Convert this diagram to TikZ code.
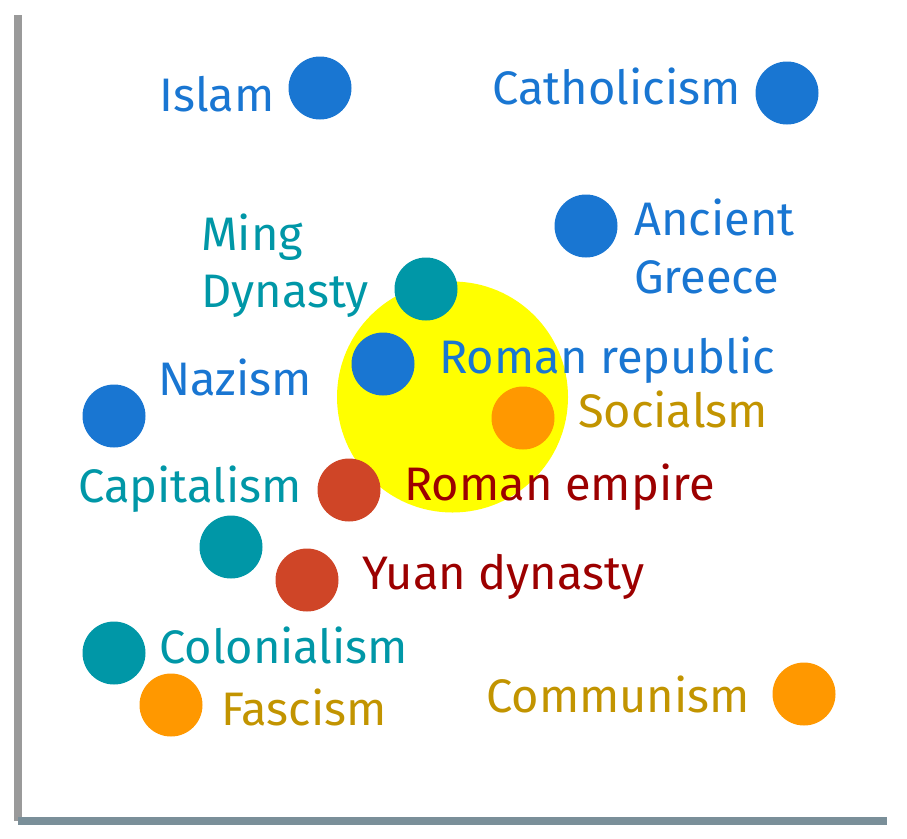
\documentclass[tikz,border=0pt]{standalone}
\usepackage{fontspec}
\setmainfont{Fira Sans}
\definecolor{cblue}{HTML}{1976D2}
\definecolor{cteal}{HTML}{0097A7}
\definecolor{corange}{HTML}{FF9800}
\definecolor{corangetxt}{HTML}{C29400}
\definecolor{cred}{HTML}{CF4527}
\definecolor{credtxt}{HTML}{9C0000}
\definecolor{cyellow}{RGB}{255,255,0}
\definecolor{axisv}{HTML}{9A9A9A}
\definecolor{axish}{HTML}{7A8F99}
\begin{document}
\begin{tikzpicture}[x=1pt,y=-1pt,
  dot/.style={circle,inner sep=0pt,minimum size=63pt},
  lbl/.style={anchor=base west,inner sep=0pt,font=\fontsize{47}{57}\selectfont,align=left}]
\useasboundingbox (0,0) rectangle (907,838);
\fill[axisv] (14,15) rectangle (22,821);
\fill[axish] (18,817) rectangle (887,825);
\node[circle,fill=cyellow,inner sep=0pt,minimum size=231pt] (focus) at (452.5,397) {};
% dots
\node[dot,fill=cblue] (islam) at (320,88) {};
\node[dot,fill=cblue] (cath) at (787,93) {};
\node[dot,fill=cblue] (greece) at (586,226) {};
\node[dot,fill=cteal] (ming) at (426,289) {};
\node[dot,fill=cblue] (repub) at (383,364) {};
\node[dot,fill=cblue] (nazi) at (114,416) {};
\node[dot,fill=corange] (social) at (523,418) {};
\node[dot,fill=cred] (empire) at (349,490) {};
\node[dot,fill=cteal] (capital) at (231,547) {};
\node[dot,fill=cred] (yuan) at (307,580) {};
\node[dot,fill=cteal] (colon) at (114,653) {};
\node[dot,fill=corange] (fasc) at (171,705) {};
\node[dot,fill=corange] (commun) at (804,694) {};
% labels
\node[lbl,text=cblue] (tislam) at (159,111) {Islam};
\node[lbl,text=cblue] (tcath) at (492,104) {Catholicism};
\node[lbl,text=cblue] (tgreece1) at (634,235) {Ancient};
\node[lbl,text=cblue] (tgreece2) at (634,293) {Greece};
\node[lbl,text=cteal] (tming1) at (201,250) {Ming};
\node[lbl,text=cteal] (tming2) at (201,307) {Dynasty};
\node[lbl,text=cblue] (tnazi) at (158,395) {Nazism};
\node[lbl,text=cblue] (trepub) at (439,373) {Roman republic};
\node[lbl,text=corangetxt] (tsocial) at (578,427) {Socialsm};
\node[lbl,text=cteal] (tcapital) at (78,502) {Capitalism};
\node[lbl,text=credtxt] (tempire) at (404,500) {Roman empire};
\node[lbl,text=credtxt] (tyuan) at (362,589) {Yuan dynasty};
\node[lbl,text=cteal] (tcolon) at (159,663) {Colonialism};
\node[lbl,text=corangetxt] (tfasc) at (221,725) {Fascism};
\node[lbl,text=corangetxt] (tcommun) at (486,712) {Communism};
\end{tikzpicture}
\end{document}
